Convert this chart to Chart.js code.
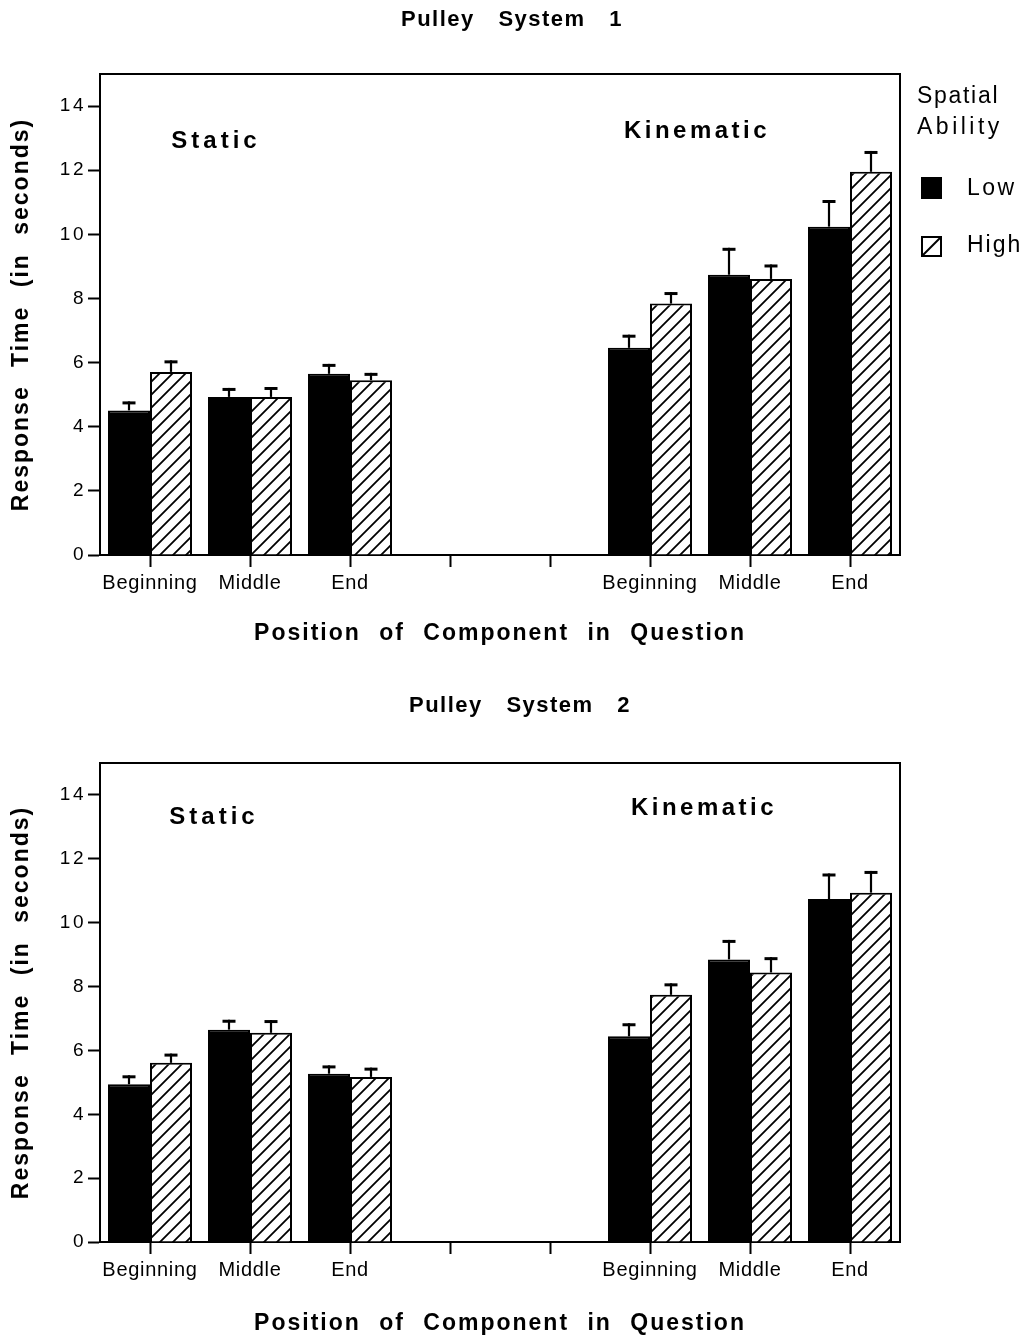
<!DOCTYPE html>
<html><head><meta charset="utf-8">
<script src="https://cdn.jsdelivr.net/npm/chart.js@4.4.1/dist/chart.umd.min.js"></script>
<style>
html,body{margin:0;padding:0;background:#fff;}
#wrap{position:relative;width:1028px;height:1338px;background:#fff;}
canvas{position:absolute;left:0;}
</style></head><body>
<div id="wrap">
<canvas id="c1" width="1028" height="648" style="top:0"></canvas>
<canvas id="c2" width="1028" height="690" style="top:648px"></canvas>
</div>
<script>
// ---- data ----
const categories = ['Beginning', 'Middle', 'End', '', '', 'Beginning', 'Middle', 'End'];
const seriesNames = ['Low', 'High'];
const yTickValues = [0, 2, 4, 6, 8, 10, 12, 14];
const chartTitles = ['Pulley System 1', 'Pulley System 2'];
const groupLabels = ['Static', 'Kinematic'];
const legendTitle = ['Spatial', 'Ability'];
const xTitle = 'Position of Component in Question';
const yTitle = 'Response Time (in seconds)';

const sys1Low  = [4.51, 4.93, 5.65, null, null, 6.46, 8.74, 10.24];
const sys1High = [5.71, 4.93, 5.45, null, null, 7.84, 8.61, 11.95];
const sys1LowErr  = [0.28, 0.28, 0.31, null, null, 0.41, 0.84, 0.83];
const sys1HighErr = [0.36, 0.31, 0.23, null, null, 0.36, 0.45, 0.65];

const sys2Low  = [4.94, 6.65, 5.27, null, null, 6.44, 8.85, 10.74];
const sys2High = [5.61, 6.55, 5.17, null, null, 7.74, 8.44, 10.94];
const sys2LowErr  = [0.28, 0.31, 0.26, null, null, 0.41, 0.61, 0.80];
const sys2HighErr = [0.29, 0.40, 0.29, null, null, 0.36, 0.48, 0.68];

// ---- styling helpers ----
const FONT = '"Liberation Sans", Arial, Helvetica, sans-serif';
const ScaleProto = (Chart.Scale || Object.getPrototypeOf(Chart.CategoryScale)).prototype;
const origLabels = ScaleProto.drawLabels;
ScaleProto.drawLabels = function (a) {
  const c = this.ctx; c.save();
  c.letterSpacing = this.axis === 'y' ? '2.5px' : '0.7px';
  origLabels.call(this, a); c.restore();
};
const origTitle = ScaleProto.drawTitle;
ScaleProto.drawTitle = function () {
  const c = this.ctx; c.save();
  c.letterSpacing = '2px'; c.wordSpacing = '10px';
  origTitle.call(this); c.restore();
};

function makeHatch() {
  const s = 13, p = document.createElement('canvas');
  p.width = s; p.height = s;
  const g = p.getContext('2d');
  g.fillStyle = '#fff'; g.fillRect(0, 0, s, s);
  g.strokeStyle = '#000'; g.lineWidth = 1.8; g.lineCap = 'square';
  g.beginPath();
  g.moveTo(0, s); g.lineTo(s, 0);
  g.moveTo(-2, 2); g.lineTo(2, -2);
  g.moveTo(s - 2, s + 2); g.lineTo(s + 2, s - 2);
  g.stroke();
  return document.createElement('canvas').getContext('2d').createPattern(p, 'repeat');
}

function txt(ctx, s, x, y, font, ls, ws, align) {
  ctx.save();
  ctx.font = font; ctx.letterSpacing = ls || '0px'; ctx.wordSpacing = ws || '0px';
  ctx.textAlign = align || 'center'; ctx.textBaseline = 'middle'; ctx.fillStyle = '#000';
  ctx.fillText(s, x, y);
  ctx.restore();
}

const decorPlugin = {
  id: 'decor',
  afterDatasetsDraw(chart) {
    const ctx = chart.ctx, ys = chart.scales.y;
    // error bars (upward only, T caps)
    chart.data.datasets.forEach((ds, di) => {
      const meta = chart.getDatasetMeta(di);
      meta.data.forEach((bar, i) => {
        const v = ds.data[i], e = ds.errors[i];
        if (v == null || e == null) return;
        const yTop = ys.getPixelForValue(v), yCap = ys.getPixelForValue(v + e);
        ctx.save();
        ctx.strokeStyle = '#000';
        ctx.lineWidth = 2.2;
        ctx.beginPath(); ctx.moveTo(bar.x, yTop); ctx.lineTo(bar.x, yCap); ctx.stroke();
        ctx.lineWidth = 3;
        ctx.beginPath(); ctx.moveTo(bar.x - 6.5, yCap + 1.5); ctx.lineTo(bar.x + 6.5, yCap + 1.5); ctx.stroke();
        ctx.restore();
      });
    });
  },
  afterDraw(chart) {
    const ctx = chart.ctx, a = chart.chartArea, o = chart.options.plugins.decor;
    ctx.save();
    ctx.strokeStyle = '#000'; ctx.lineWidth = 2;
    ctx.beginPath();
    ctx.moveTo(a.left, a.top); ctx.lineTo(a.right, a.top); ctx.lineTo(a.right, a.bottom);
    ctx.stroke();
    ctx.restore();
    txt(ctx, o.title, o.titlePos[0], o.titlePos[1], 'bold 22px ' + FONT, '1.5px', '16px');
    txt(ctx, groupLabels[0], o.staticPos[0], o.staticPos[1], 'bold 24px ' + FONT, '4px');
    txt(ctx, groupLabels[1], o.kinPos[0], o.kinPos[1], 'bold 24px ' + FONT, '3.5px');
    if (o.legend) {
      const f = '23px ' + FONT;
      txt(ctx, legendTitle[0], 917, 97, f, '1.7px', '0px', 'left');
      txt(ctx, legendTitle[1], 917, 128, f, '3.5px', '0px', 'left');
      const ds = chart.data.datasets;
      // Low swatch
      ctx.save();
      ctx.fillStyle = ds[0].backgroundColor;
      ctx.fillRect(921, 177, 21, 22);
      // High swatch
      ctx.fillStyle = '#fff';
      ctx.fillRect(922, 237, 19, 19);
      ctx.strokeStyle = '#000'; ctx.lineWidth = 2;
      ctx.strokeRect(922, 237, 19, 19);
      ctx.beginPath(); ctx.moveTo(922, 256); ctx.lineTo(941, 237); ctx.stroke();
      ctx.restore();
      txt(ctx, ds[0].label, 967, 189, f, '2.5px', '0px', 'left');
      txt(ctx, ds[1].label, 967, 246, f, '2px', '0px', 'left');
    }
  }
};

function build(id, low, high, lowErr, highErr, cfg) {
  const hatch = makeHatch();
  return new Chart(document.getElementById(id), {
    type: 'bar',
    data: {
      labels: categories,
      datasets: [
        { label: seriesNames[0], data: low, errors: lowErr, backgroundColor: '#000', borderColor: '#000', borderWidth: 2 },
        { label: seriesNames[1], data: high, errors: highErr, backgroundColor: hatch, borderColor: '#000', borderWidth: 2 }
      ]
    },
    options: {
      responsive: false,
      animation: false,
      events: [],
      layout: { padding: { top: cfg.padTop, left: 0, right: 128, bottom: 0 } },
      datasets: { bar: { categoryPercentage: 0.84, barPercentage: 1.0, borderSkipped: 'start' } },
      plugins: {
        legend: { display: false },
        tooltip: { enabled: false },
        title: { display: false },
        decor: cfg
      },
      scales: {
        x: {
          afterFit(s) { s.height = cfg.xHeight; },
          grid: { display: true, drawOnChartArea: false, drawTicks: true, tickLength: 12, offset: false, tickColor: '#000', tickWidth: 2 },
          border: { display: true, color: '#000', width: 2 },
          ticks: { autoSkip: false, maxRotation: 0, color: '#000', padding: 4, font: { family: FONT, size: 20 } },
          title: { display: true, text: xTitle, color: '#000', font: { family: FONT, size: 23, weight: 'bold' }, padding: { top: 0, bottom: 1 } }
        },
        y: {
          min: 0, max: 15,
          afterFit(s) { s.width = 100; },
          afterBuildTicks(s) { s.ticks = yTickValues.map(v => ({ value: v })); },
          grid: { display: true, drawOnChartArea: false, drawTicks: true, tickLength: 12, tickColor: '#000', tickWidth: 2 },
          border: { display: true, color: '#000', width: 2 },
          ticks: { color: '#000', padding: 2, font: { family: FONT, size: 19 } },
          title: { display: true, text: yTitle, color: '#000', font: { family: FONT, size: 23, weight: 'bold' }, padding: { top: 8, bottom: 0 } }
        }
      }
    },
    plugins: [decorPlugin]
  });
}

build('c1', sys1Low, sys1High, sys1LowErr, sys1HighErr,
  { padTop: 74, xHeight: 93, title: chartTitles[0], titlePos: [512, 20], staticPos: [216, 141], kinPos: [697, 131], legend: true });
build('c2', sys2Low, sys2High, sys2LowErr, sys2HighErr,
  { padTop: 115, xHeight: 96, title: chartTitles[1], titlePos: [520, 58], staticPos: [214, 169], kinPos: [704, 160], legend: false });
</script>
</body></html>
